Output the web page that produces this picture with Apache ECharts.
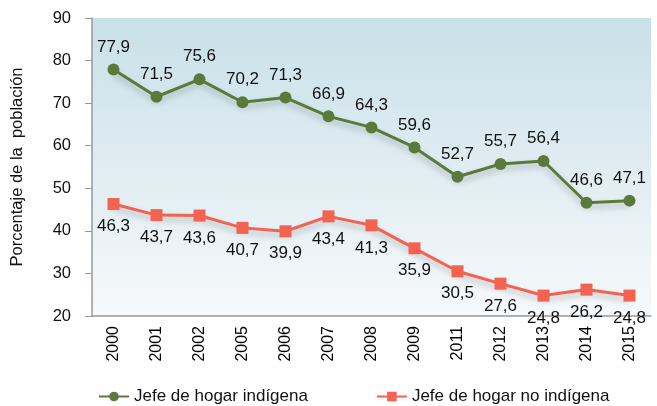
<!DOCTYPE html>
<html><head><meta charset="utf-8">
<script src="https://cdn.jsdelivr.net/npm/echarts@6/dist/echarts.min.js"></script>
<style>html,body{margin:0;padding:0;background:#fff}#c{width:657px;height:406px}</style>
</head><body><div id="c"></div>
<script>
var years = ['2000','2001','2002','2005','2006','2007','2008','2009','2011','2012','2013','2014','2015'];
var indigena = [77.9,71.5,75.6,70.2,71.3,66.9,64.3,59.6,52.7,55.7,56.4,46.6,47.1];
var noIndigena = [46.3,43.7,43.6,40.7,39.9,43.4,41.3,35.9,30.5,27.6,24.8,26.2,24.8];
var yTicks = [20,30,40,50,60,70,80,90];
var FONT = '"Liberation Sans", Arial, sans-serif';
var fmt = function(p){ return String(p.value).replace('.', ','); };
var chart = echarts.init(document.getElementById('c'));
chart.setOption({
  animation: false,
  textStyle: {fontFamily: FONT},
  grid: {left: 92, right: 6, top: 18, bottom: 90, show: true, borderWidth: 0,
    backgroundColor: new echarts.graphic.LinearGradient(0,0,0,1,[{offset:0,color:'#c8e0e8'},{offset:1,color:'#f7f9fb'}])},
  legend: {left: 93, top: 383, itemWidth: 30, itemHeight: 12, itemGap: 68,
    textStyle: {fontFamily: FONT, fontSize: 17, color: '#111'},
    data: ['Jefe de hogar indígena','Jefe de hogar no indígena']},
  xAxis: {type: 'category', data: years, boundaryGap: true,
    axisLine: {lineStyle: {color: '#999', width: 1.5}},
    axisTick: {length: 8, lineStyle: {color: '#999'}},
    axisLabel: {rotate: 90, fontSize: 16, color: '#000', fontFamily: FONT, margin: 10}},
  yAxis: {type: 'value', min: yTicks[0], max: yTicks[yTicks.length-1], interval: 10,
    name: 'Porcentaje de la  población', nameLocation: 'middle', nameGap: 66,
    nameTextStyle: {fontSize: 16.5, color: '#111', fontFamily: FONT},
    splitLine: {show: false},
    axisLine: {show: true, lineStyle: {color: '#999', width: 1.5}},
    axisTick: {show: true, length: 7, lineStyle: {color: '#999'}},
    axisLabel: {fontSize: 16.5, color: '#111', fontFamily: FONT, margin: 21}},
  series: [
    {name: 'Jefe de hogar indígena', type: 'line', data: indigena,
     symbol: 'circle', symbolSize: 12, color: '#5b7a3a',
     lineStyle: {width: 3, color: '#5b7a3a', shadowColor: 'rgba(0,0,0,0.25)', shadowBlur: 6, shadowOffsetY: 4},
     itemStyle: {color: '#5b7a3a'},
     label: {show: true, position: 'top', distance: 8, fontSize: 17, color: '#111', fontFamily: FONT, formatter: fmt}},
    {name: 'Jefe de hogar no indígena', type: 'line', data: noIndigena,
     symbol: 'rect', symbolSize: 12, color: '#f26352',
     lineStyle: {width: 3, color: '#f26352', shadowColor: 'rgba(0,0,0,0.25)', shadowBlur: 6, shadowOffsetY: 4},
     itemStyle: {color: '#f26352'},
     label: {show: true, position: 'bottom', distance: 8, fontSize: 17, color: '#111', fontFamily: FONT, formatter: fmt}}
  ]
});
</script></body></html>
